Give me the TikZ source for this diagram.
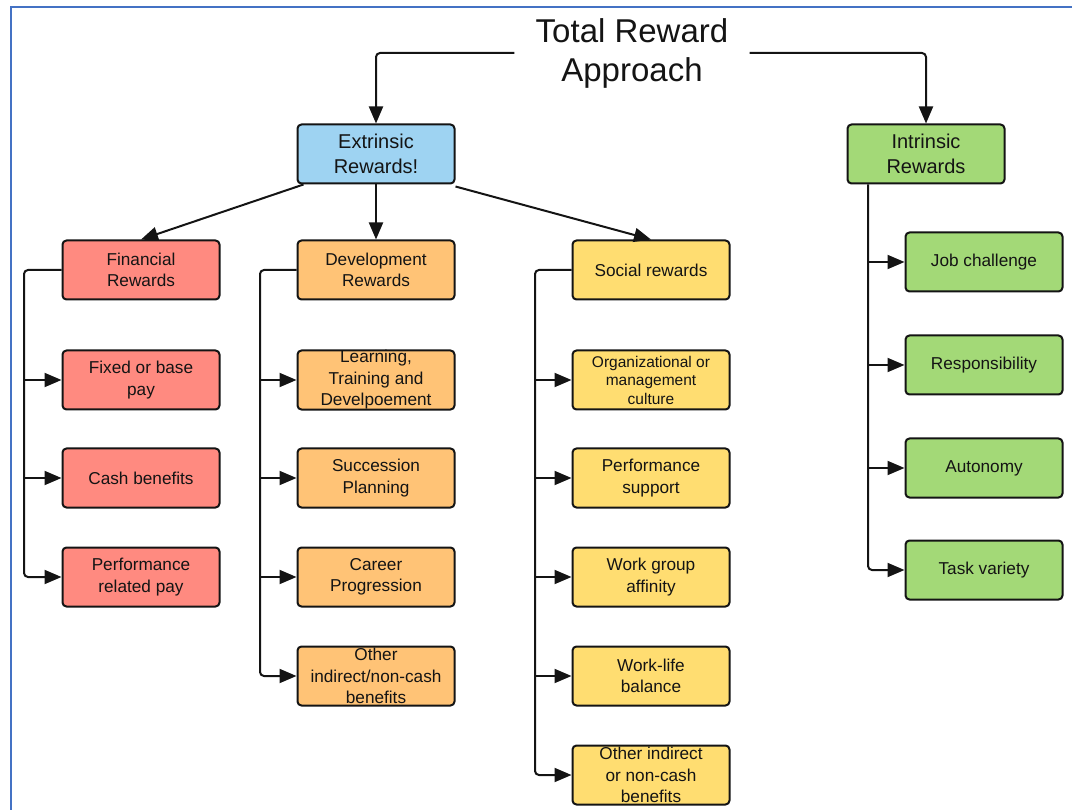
\documentclass[tikz,border=0pt]{standalone}
\usepackage{fontspec}
\setmainfont{Liberation Sans}
\usetikzlibrary{arrows.meta,positioning}

\definecolor{frameblue}{RGB}{68,114,196}
\definecolor{extblue}{RGB}{158,211,242}
\definecolor{intgreen}{RGB}{163,217,119}
\definecolor{finred}{RGB}{255,138,128}
\definecolor{devorange}{RGB}{255,195,118}
\definecolor{socyellow}{RGB}{255,221,113}
\definecolor{ink}{RGB}{20,20,20}

\tikzset{
  box/.style={draw=ink, line width=2pt, rounded corners=4pt,
    minimum width=157pt, minimum height=59pt, inner sep=0pt,
    align=center, text=ink, font=\fontsize{17.2}{21.5}\selectfont},
  headbox/.style={box, font=\fontsize{20}{25}\selectfont},
  smallbox/.style={box, font=\fontsize{15.5}{18.5}\selectfont},
  link/.style={draw=ink, line width=2pt, rounded corners=4pt,
    -{Triangle[length=17pt,width=14pt]}},
}

\begin{document}
\begin{tikzpicture}[x=1pt,y=-1pt]
  \useasboundingbox (0,0) rectangle (1072,810);
  \begin{scope}
    \clip (0,0) rectangle (1072,810);
    \draw[frameblue, line width=2pt] (11,7) rectangle (1100,840);
  \end{scope}

  % title
  \node[text=ink, font=\fontsize{33}{39}\selectfont, align=center,
        minimum width=235pt, inner sep=0pt] (title) at (632,53)
        {Total Reward\\Approach};

  % first level
  \node[headbox, fill=extblue]  (ext) at (376,154) {Extrinsic\\Rewards!};
  \node[headbox, fill=intgreen] (int) at (926,154) {Intrinsic\\Rewards};

  % second level
  \node[box, fill=finred]    (fin) at (141,270) {Financial\\Rewards};
  \node[box, fill=devorange] (dev) at (376,270) {Development\\Rewards};
  \node[box, fill=socyellow] (soc) at (651,270) {Social rewards};

  % financial
  \node[box, fill=finred] (f1) at (141,380) {Fixed or base\\pay};
  \node[box, fill=finred] (f2) at (141,478) {Cash benefits};
  \node[box, fill=finred] (f3) at (141,577) {Performance\\related pay};

  % development
  \node[box, fill=devorange] (d1) at (376,380) {Learning,\\Training and\\Develpoement};
  \node[box, fill=devorange] (d2) at (376,478) {Succession\\Planning};
  \node[box, fill=devorange] (d3) at (376,577) {Career\\Progression};
  \node[box, fill=devorange] (d4) at (376,676) {Other\\indirect/non-cash\\benefits};

  % social
  \node[smallbox, fill=socyellow] (s1) at (651,380) {Organizational or\\management\\culture};
  \node[box, fill=socyellow] (s2) at (651,478) {Performance\\support};
  \node[box, fill=socyellow] (s3) at (651,577) {Work group\\affinity};
  \node[box, fill=socyellow] (s4) at (651,676) {Work-life\\balance};
  \node[box, fill=socyellow] (s5) at (651,775) {Other indirect\\or non-cash\\benefits};

  % intrinsic
  \node[box, fill=intgreen] (i1) at (984,262) {Job challenge};
  \node[box, fill=intgreen] (i2) at (984,365) {Responsibility};
  \node[box, fill=intgreen] (i3) at (984,468) {Autonomy};
  \node[box, fill=intgreen] (i4) at (984,570) {Task variety};

  % bus positions
  \coordinate (finbus) at (24,0);
  \coordinate (devbus) at (260,0);
  \coordinate (socbus) at (535,0);
  \coordinate (intbus) at (868,0);

  % title to first level
  \draw[link] (title.west) -| (ext.north);
  \draw[link] (title.east) -| (int.north);

  % extrinsic to second level
  \draw[link] ([xshift=7pt]ext.south west) -- (fin.north);
  \draw[link] (ext.south) -- (dev.north);
  \draw[link] ([yshift=-2pt]ext.south east) -- (soc.north);

  % financial branch
  \draw[link] (fin.west) -| (finbus |- f3.west) -- (f3.west);
  \foreach \c in {f1,f2} \draw[link] (finbus |- \c.west) -- (\c.west);

  % development branch
  \draw[link] (dev.west) -| (devbus |- d4.west) -- (d4.west);
  \foreach \c in {d1,d2,d3} \draw[link] (devbus |- \c.west) -- (\c.west);

  % social branch
  \draw[link] (soc.west) -| (socbus |- s5.west) -- (s5.west);
  \foreach \c in {s1,s2,s3,s4} \draw[link] (socbus |- \c.west) -- (\c.west);

  % intrinsic branch
  \draw[link] (intbus |- int.south) -- (intbus |- i4.west) -- (i4.west);
  \foreach \c in {i1,i2,i3} \draw[link] (intbus |- \c.west) -- (\c.west);
\end{tikzpicture}
\end{document}
